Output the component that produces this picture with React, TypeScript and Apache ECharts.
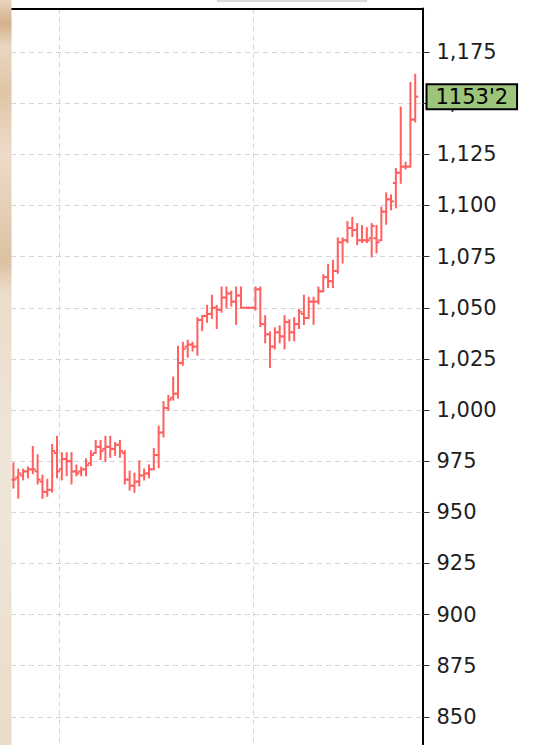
import React, { useEffect, useRef } from "react";
import * as echarts from "echarts";

// Trading days (one category per bar slot; the last slot is empty space)
const days: string[] = Array.from({ length: 85 }, (_, i) => String(i + 1));
// Boundaries (category index) where a new period starts (vertical grid lines)
const periodStarts: number[] = [10, 50];

const opens: number[] = [
  966, 967, 968, 970, 971, 970, 965, 960, 961, 979,
  971, 976, 975, 970, 970, 971, 974, 979, 982, 981,
  982, 981, 983, 979, 966, 963, 965, 968, 969, 971,
  978, 989, 1001, 1006, 1008, 1023, 1031, 1032, 1031, 1044,
  1046, 1047, 1050, 1049, 1055, 1057, 1053, 1056, 1050, 1050,
  1050, 1059, 1042, 1037, 1031, 1038, 1036, 1043, 1038, 1042,
  1047, 1045, 1053, 1053, 1058, 1065, 1063, 1068, 1082, 1083,
  1089, 1088, 1083, 1083, 1084, 1084, 1083, 1097, 1103, 1111,
  1116, 1119, 1119, 1142,
];
const highs: number[] = [
  974, 971, 971, 972, 982, 978, 968, 966, 983, 987,
  979, 979, 979, 973, 972, 976, 980, 985, 985, 987,
  987, 984, 985, 980, 970, 969, 975, 971, 973, 981,
  992, 1004, 1007, 1016, 1031, 1033, 1034, 1033, 1045, 1046,
  1051, 1056, 1051, 1060, 1060, 1058, 1060, 1060, 1050, 1050,
  1060, 1060, 1046, 1038, 1040, 1041, 1046, 1044, 1045, 1049,
  1056, 1055, 1055, 1060, 1066, 1071, 1073, 1084, 1084, 1092,
  1094, 1091, 1090, 1089, 1091, 1090, 1099, 1106, 1105, 1118,
  1148, 1121, 1160, 1164,
];
const lows: number[] = [
  962, 957, 966, 967, 969, 964, 957, 958, 960, 967,
  966, 968, 964, 968, 968, 968, 973, 979, 976, 975,
  977, 978, 977, 964, 961, 960, 963, 966, 967, 971,
  972, 987, 1000, 1005, 1006, 1022, 1026, 1029, 1027, 1039,
  1043, 1045, 1040, 1048, 1050, 1051, 1042, 1050, 1050, 1050,
  1049, 1041, 1033, 1021, 1030, 1033, 1030, 1034, 1034, 1040,
  1042, 1045, 1042, 1052, 1058, 1060, 1060, 1067, 1072, 1082,
  1085, 1081, 1082, 1082, 1075, 1077, 1083, 1091, 1098, 1099,
  1111, 1118, 1119, 1141,
];
const closes: number[] = [
  966, 969, 970, 971, 971, 966, 960, 961, 980, 970,
  976, 975, 970, 969, 971, 973, 978, 982, 980, 982,
  981, 983, 980, 966, 963, 965, 968, 969, 971, 978,
  989, 1001, 1005, 1008, 1023, 1030, 1032, 1031, 1044, 1046,
  1047, 1050, 1049, 1055, 1057, 1053, 1056, 1050, 1050, 1050,
  1059, 1042, 1037, 1031, 1038, 1036, 1043, 1038, 1042, 1048,
  1045, 1053, 1053, 1058, 1065, 1063, 1068, 1082, 1083, 1089,
  1088, 1083, 1083, 1083, 1090, 1082, 1097, 1103, 1102, 1116,
  1119, 1119, 1142, 1153.2,
];

const yMin = 825;
const yMax = 1196.3;
const yStep = 25;

const BAR_COLOR = "#ff5f5f";

export default function App() {
  const ref = useRef<HTMLDivElement>(null);

  useEffect(() => {
    if (!ref.current) return;
    const chart = echarts.init(ref.current, null, { renderer: "svg" });
    const data = opens.map((o, i) => [i, o, highs[i], lows[i], closes[i]]);
    const last = closes[closes.length - 1];
    const fmtPrice = (v: number) => {
      const whole = Math.floor(v);
      const dec = Math.round((v - whole) * 10);
      return `${whole}'${dec}`;
    };

    const option: any = {
      animation: false,
      backgroundColor: "#ffffff",
      grid: {
        left: 11,
        right: 110.5,
        top: 8.5,
        bottom: 0,
        containLabel: false,
        outerBoundsMode: "none",
      },
      xAxis: {
        type: "category",
        position: "top",
        data: days,
        boundaryGap: true,
        axisLine: { show: true, lineStyle: { color: "#000", width: 2 } },
        axisTick: { show: false },
        axisLabel: { show: false },
        splitLine: {
          show: true,
          interval: (index: number) => periodStarts.includes(index),
          lineStyle: { color: "#d4d4d4", type: [5, 4], width: 1 },
        },
      },
      yAxis: {
        type: "value",
        position: "right",
        min: yMin,
        max: yMax,
        interval: yStep,
        axisLine: { show: true, onZero: false, lineStyle: { color: "#000", width: 2 } },
        axisTick: { show: true, length: 7, lineStyle: { color: "#333", width: 1 } },
        axisLabel: {
          show: true,
          margin: 14,
          fontFamily: "DejaVu Sans",
          fontSize: 21,
          color: "#1e1e1e",
          showMaxLabel: false,
          showMinLabel: false,
          formatter: (v: number) => v.toLocaleString("en-US"),
        },
        splitLine: {
          show: true,
          lineStyle: { color: "#d4d4d4", type: [5, 4], width: 1 },
        },
      },
      series: [
        {
          type: "custom",
          data,
          encode: { x: 0, y: [1, 2, 3, 4] },
          renderItem: (params: any, api: any) => {
            const i = api.value(0);
            const o = api.coord([i, api.value(1)]);
            const h = api.coord([i, api.value(2)]);
            const l = api.coord([i, api.value(3)]);
            const c = api.coord([i, api.value(4)]);
            const x = o[0];
            const half = 3;
            const style = { stroke: BAR_COLOR, lineWidth: 2 };
            return {
              type: "group",
              children: [
                { type: "line", shape: { x1: x, y1: h[1] - 0.8, x2: x, y2: l[1] + 0.8 }, style },
                { type: "line", shape: { x1: x - half, y1: o[1], x2: x, y2: o[1] }, style },
                { type: "line", shape: { x1: x, y1: c[1], x2: x + half, y2: c[1] }, style },
              ],
            };
          },
          markLine: {
            silent: true,
            symbol: "none",
            animation: false,
            lineStyle: { width: 0, color: "rgba(0,0,0,0)" },
            data: [{ yAxis: last }],
            label: {
              show: true,
              position: "end",
              distance: 5,
              formatter: () => fmtPrice(last),
              fontFamily: "DejaVu Sans",
              fontSize: 21,
              lineHeight: 21,
              color: "#000",
              backgroundColor: "#9dc47b",
              borderColor: "#000",
              borderWidth: 2,
              padding: [1, 8, 1, 8],
            },
          },
          z: 5,
        },
      ],
      graphic: [
        {
          type: "rect",
          z: 100,
          shape: { x: 217.5, y: -12, width: 149, height: 13 },
          style: { fill: "#fff", stroke: "#b8b8b8", lineWidth: 1 },
        },
        {
          type: "rect",
          z: 100,
          shape: { x: 0, y: 0, width: 11.5, height: 770 },
          style: {
            fill: new echarts.graphic.LinearGradient(0, 0, 0, 1, [
              { offset: 0, color: "#e8d5bf" },
              { offset: 0.03, color: "#d3b08c" },
              { offset: 0.06, color: "#e9d6c0" },
              { offset: 0.12, color: "#e0c5a7" },
              { offset: 0.2, color: "#eddcca" },
              { offset: 0.34, color: "#dcc1a2" },
              { offset: 0.38, color: "#ecdccb" },
              { offset: 0.6, color: "#efe6da" },
              { offset: 0.8, color: "#ede1d2" },
              { offset: 1, color: "#eadbc8" },
            ]),
          },
        },
      ],
    };
    chart.setOption(option);
    return () => chart.dispose();
  }, []);

  return (
    <div
      ref={ref}
      style={{ position: "fixed", left: 0, top: 0, width: 533, height: 768, background: "#fff" }}
    />
  );
}
